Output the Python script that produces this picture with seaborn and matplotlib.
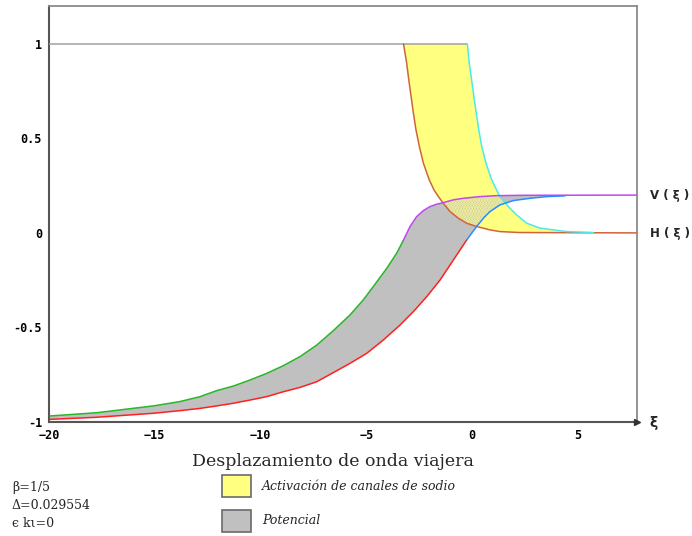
import numpy as np
import matplotlib
matplotlib.use("Agg")
import matplotlib.pyplot as plt
from matplotlib.patches import Rectangle
from matplotlib.font_manager import FontProperties
import seaborn as sns

# --- V(xi): upper boundary of the potential band (green part, then magenta) ---
xi_v_sup_verde = [-19.95, -17.75, -15.07, -13.81, -12.86, -12.07, -11.29, -10.50, -9.71,
                  -8.92, -8.13, -7.34, -6.56, -5.77, -5.14, -4.67, -4.03, -3.56, -3.25]
v_sup_verde = [-0.968, -0.951, -0.915, -0.892, -0.866, -0.834, -0.810, -0.778, -0.743,
               -0.702, -0.654, -0.593, -0.517, -0.434, -0.354, -0.284, -0.187, -0.107, -0.040]
xi_v_sup_magenta = [-3.25, -2.93, -2.62, -2.30, -1.99, -1.67, -1.36, -0.88, -0.41,
                    0.38, 1.17, 2.5, 7.8]
v_sup_magenta = [-0.040, 0.034, 0.086, 0.118, 0.139, 0.152, 0.160, 0.175, 0.183,
                 0.192, 0.197, 0.199, 0.200]

# --- lower boundary of the potential band (red part, then blue) ---
xi_v_inf_rojo = [-19.95, -17.75, -15.07, -13.81, -12.86, -12.07, -11.29, -10.50, -9.71,
                 -8.92, -8.13, -7.34, -6.56, -5.77, -4.98, -4.19, -3.40, -2.77, -2.14,
                 -1.51, -0.88, -0.25]
v_inf_rojo = [-0.986, -0.975, -0.954, -0.940, -0.928, -0.915, -0.901, -0.884, -0.866,
              -0.840, -0.817, -0.787, -0.739, -0.690, -0.637, -0.566, -0.487, -0.416,
              -0.337, -0.249, -0.143, -0.037]
xi_v_inf_azul = [-0.25, 0.22, 0.54, 0.85, 1.32, 1.95, 2.74, 3.53, 4.40]
v_inf_azul = [-0.037, 0.034, 0.078, 0.113, 0.148, 0.171, 0.183, 0.192, 0.196]

# --- H(xi): sodium-channel activation band ---
xi_h_izq = [-3.24, -3.09, -2.99, -2.88, -2.77, -2.65, -2.49, -2.30, -2.02, -1.80, -1.59,
            -1.36, -1.04, -0.65, -0.25, 0.22, 0.85, 1.32, 2.27, 7.8]
h_izq = [1.0, 0.898, 0.810, 0.721, 0.633, 0.545, 0.457, 0.369, 0.280, 0.228, 0.192,
         0.157, 0.113, 0.078, 0.051, 0.034, 0.016, 0.007, 0.002, 0.0]
xi_h_der = [-0.22, -0.13, -0.02, 0.09, 0.20, 0.32, 0.46, 0.66, 0.93, 1.32, 1.72, 2.11,
            2.59, 3.22, 4.48, 5.74]
h_der = [1.0, 0.898, 0.810, 0.721, 0.633, 0.545, 0.457, 0.369, 0.280, 0.192, 0.139,
         0.095, 0.051, 0.025, 0.007, 0.002]
xi_techo = [-20, -0.22]
h_techo = [1.0, 1.0]

x_ticks = [-20, -15, -10, -5, 0, 5]
y_ticks = [-1, -0.5, 0, 0.5, 1]
y_tick_labels = ["-1", "-0.5", "0", "0.5", "1"]

parametros = ["β=1/5", "Δ=0.029554", "ϵ kι=0"]
leyenda = ["Activación de canales de sodio", "Potencial"]

AMARILLO = "#ffff80"
GRIS = "#c0c0c0"

sns.set_theme(style="white")
plt.rcParams["font.family"] = ["DejaVu Sans"]
plt.rcParams["hatch.linewidth"] = 1.6

fig = plt.figure(figsize=(6.92, 5.36), dpi=100)
ax = fig.add_axes([49 / 692, 1 - 422 / 536, (637 - 49) / 692, (422 - 6) / 536])
ax.set_facecolor("white")

# filled bands, built as closed polygons from the boundary curves
amar_x = np.concatenate([xi_h_izq, xi_h_der[::-1]])
amar_y = np.concatenate([h_izq, h_der[::-1]])
gris_x = np.concatenate([xi_v_sup_verde, xi_v_sup_magenta, xi_v_inf_azul[::-1], xi_v_inf_rojo[::-1]])
gris_y = np.concatenate([v_sup_verde, v_sup_magenta, v_inf_azul[::-1], v_inf_rojo[::-1]])

ax.fill(amar_x, amar_y, facecolor=AMARILLO, edgecolor="none", zorder=1)
ax.fill(gris_x, gris_y, facecolor=GRIS, edgecolor="none", zorder=2)
# overlap of both bands: yellow stipple over grey
ax.fill(amar_x, amar_y, facecolor="none", edgecolor=AMARILLO, linewidth=0,
        hatch="......", zorder=3)

curvas = [
    (xi_techo, h_techo, "#a0a0a0"),
    (xi_h_izq, h_izq, "#d0643a"),
    (xi_h_der, h_der, "#48ecec"),
    (xi_v_sup_verde, v_sup_verde, "#28b828"),
    (xi_v_sup_magenta, v_sup_magenta, "#c048f0"),
    (xi_v_inf_rojo, v_inf_rojo, "#ff2020"),
    (xi_v_inf_azul, v_inf_azul, "#2a8cff"),
]
for xs, ys, col in curvas:
    sns.lineplot(x=xs, y=ys, ax=ax, color=col, linewidth=1.1, sort=False,
                 estimator=None, zorder=4)

ax.set_xlim(-20, 7.8)
ax.set_ylim(-1, 1.2)
ax.set_xticks(x_ticks)
ax.set_yticks(y_ticks)
ax.set_yticklabels(y_tick_labels)
tick_fp = FontProperties(family="DejaVu Sans Mono", weight="bold", size=8.5)
for lab in ax.get_xticklabels() + ax.get_yticklabels():
    lab.set_fontproperties(tick_fp)
ax.tick_params(axis="both", direction="in", length=3.5, width=1, color="#606060",
               labelcolor="black")
ax.tick_params(axis="x", pad=5)
ax.tick_params(axis="y", pad=5)

for side in ["left", "bottom"]:
    ax.spines[side].set_color("#555555")
    ax.spines[side].set_linewidth(1.5)
for side in ["top", "right"]:
    ax.spines[side].set_color("#8a8a8a")
    ax.spines[side].set_linewidth(1.3)
    ax.spines[side].set_visible(True)

# arrow head at the end of the xi axis
ax.plot([1.0], [0.0], marker=">", color="#333333", markersize=4,
        transform=ax.transAxes, clip_on=False, zorder=6)
fig.text(649 / 692, 1 - 423 / 536, "ξ", fontsize=10, fontweight="bold",
         ha="left", va="center")

fig.text(650 / 692, 1 - 195 / 536, "V ( ξ )", fontsize=8.5, fontweight="bold",
         ha="left", va="center")
fig.text(650 / 692, 1 - 234 / 536, "H ( ξ )", fontsize=8.5, fontweight="bold",
         ha="left", va="center")

fig.text(333 / 692, 1 - 462 / 536, "Desplazamiento de onda viajera",
         family="DejaVu Serif", fontsize=12.5, ha="center", va="center")

for i, txt in enumerate(parametros):
    fig.text(12 / 692, 1 - (488 + 17.5 * i) / 536, txt, family="DejaVu Serif",
             fontsize=9, ha="left", va="center")

for i, (txt, col) in enumerate(zip(leyenda, [AMARILLO, GRIS])):
    y0 = 475 + 35 * i
    fig.add_artist(Rectangle((222 / 692, 1 - (y0 + 22) / 536), 29 / 692, 22 / 536,
                             transform=fig.transFigure, facecolor=col,
                             edgecolor="#6a6a6a", linewidth=1.2))
    fig.text(262 / 692, 1 - (y0 + 11) / 536, txt, family="DejaVu Serif",
             style="italic", fontsize=9, ha="left", va="center")

fig.savefig("out.png", dpi=100)
